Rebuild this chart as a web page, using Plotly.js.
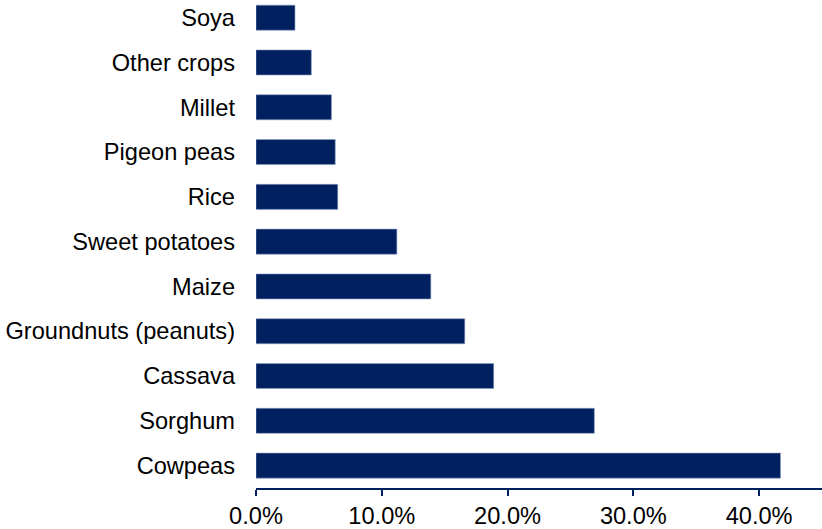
<!DOCTYPE html>
<html>
<head>
<meta charset="utf-8">
<script src="https://cdn.plot.ly/plotly-3.0.1.min.js"></script>
<style>html,body{margin:0;padding:0;background:#fff;}#chart{width:822px;height:529px;}</style>
</head>
<body>
<div id="chart"></div>
<script>
const crops = ["Cowpeas", "Sorghum", "Cassava", "Groundnuts (peanuts)", "Maize", "Sweet potatoes", "Rice", "Pigeon peas", "Millet", "Other crops", "Soya"];
const shares = [41.7, 26.9, 18.9, 16.6, 13.9, 11.2, 6.5, 6.3, 6.0, 4.4, 3.1];
const xTickVals = [0, 10, 20, 30, 40];
const xTickText = ["0.0%", "10.0%", "20.0%", "30.0%", "40.0%"];

const navy = "#002060";

Plotly.newPlot("chart", [{
  type: "bar",
  orientation: "h",
  y: crops,
  x: shares,
  marker: { color: navy, line: { color: "#8ea0c4", width: 0.6 } },
  width: 0.56,
  hoverinfo: "none"
}], {
  width: 822,
  height: 529,
  margin: { l: 256, r: 0, t: 0, b: 41 },
  paper_bgcolor: "#ffffff",
  plot_bgcolor: "#ffffff",
  showlegend: false,
  font: { family: "Liberation Sans", size: 23.6, color: "#000000" },
  xaxis: {
    range: [0, 45],
    tickmode: "array",
    tickvals: xTickVals,
    ticktext: xTickText,
    showgrid: false,
    zeroline: false,
    showline: true,
    linecolor: navy,
    linewidth: 2,
    ticks: "outside",
    ticklen: 6,
    tickwidth: 2,
    tickcolor: navy,
    tickfont: { family: "Liberation Sans", size: 23.6, color: "#000000" }
  },
  yaxis: {
    type: "category",
    range: [-0.5, 10.395],
    showgrid: false,
    zeroline: false,
    showline: false,
    ticks: "",
    ticklabelstandoff: 20,
    tickfont: { family: "Liberation Sans", size: 23.6, color: "#000000" }
  }
}, { displayModeBar: false, staticPlot: true });
</script>
</body>
</html>
